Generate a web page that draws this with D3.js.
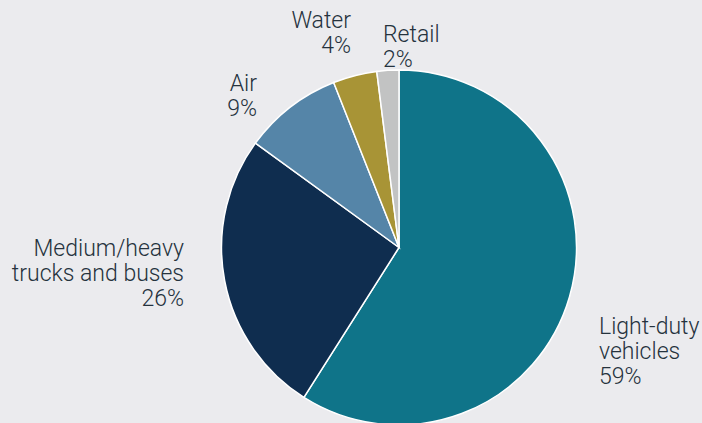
<!DOCTYPE html>
<html><head><meta charset="utf-8">
<script src="https://cdn.jsdelivr.net/npm/d3@7"></script>
<style>
html,body{margin:0;padding:0;background:#ebebee;}
svg{display:block;}
text{font-family:Roboto,"Liberation Sans",sans-serif;font-weight:300;fill:#25323d;}
</style></head><body>
<svg id="c" width="702" height="423"></svg>
<script>
const categories = ["Light-duty vehicles","Medium/heavy trucks and buses","Air","Water","Retail"];
const values = [59, 26, 9, 4, 2];
const colors = ["#0f7489","#0f2d4f","#5585a8","#a89436","#c2c3c3"];
const labelLines = [["Light-duty","vehicles","59%"],["Medium/heavy","trucks and buses","26%"],["Air","9%"],["Water","4%"],["Retail","2%"]];

const W=702,H=423, cx=399, cy=247.5, R=177.5;
const svg=d3.select("#c");
svg.append("rect").attr("width",W).attr("height",H).attr("fill","#ebebee");
const data=categories.map((c,i)=>({cat:c,value:values[i],color:colors[i],lines:labelLines[i]}));
const pie=d3.pie().value(d=>d.value).sort(null);
const arc=d3.arc().innerRadius(0).outerRadius(R);
const arcs=pie(data);
const g=svg.append("g").attr("transform",`translate(${cx},${cy})`);
g.selectAll("path").data(arcs).join("path")
  .attr("d",arc).attr("fill",d=>d.data.color)
  .attr("stroke","#ffffff").attr("stroke-width",1.5);

const labelPos=[{x:599,y:334,a:"start"},{x:184,y:256,a:"end"},{x:257,y:91,a:"end"},{x:351,y:28,a:"end"},{x:383,y:42,a:"start"}];
const lh=25;
data.forEach((d,i)=>{
  const p=labelPos[i];
  const t=svg.append("text").attr("x",p.x).attr("y",p.y).attr("text-anchor",p.a).style("font-size","23px");
  d.lines.forEach((l,j)=>t.append("tspan").attr("x",p.x).attr("y",p.y+j*lh).text(l));
});
</script>
</body></html>
